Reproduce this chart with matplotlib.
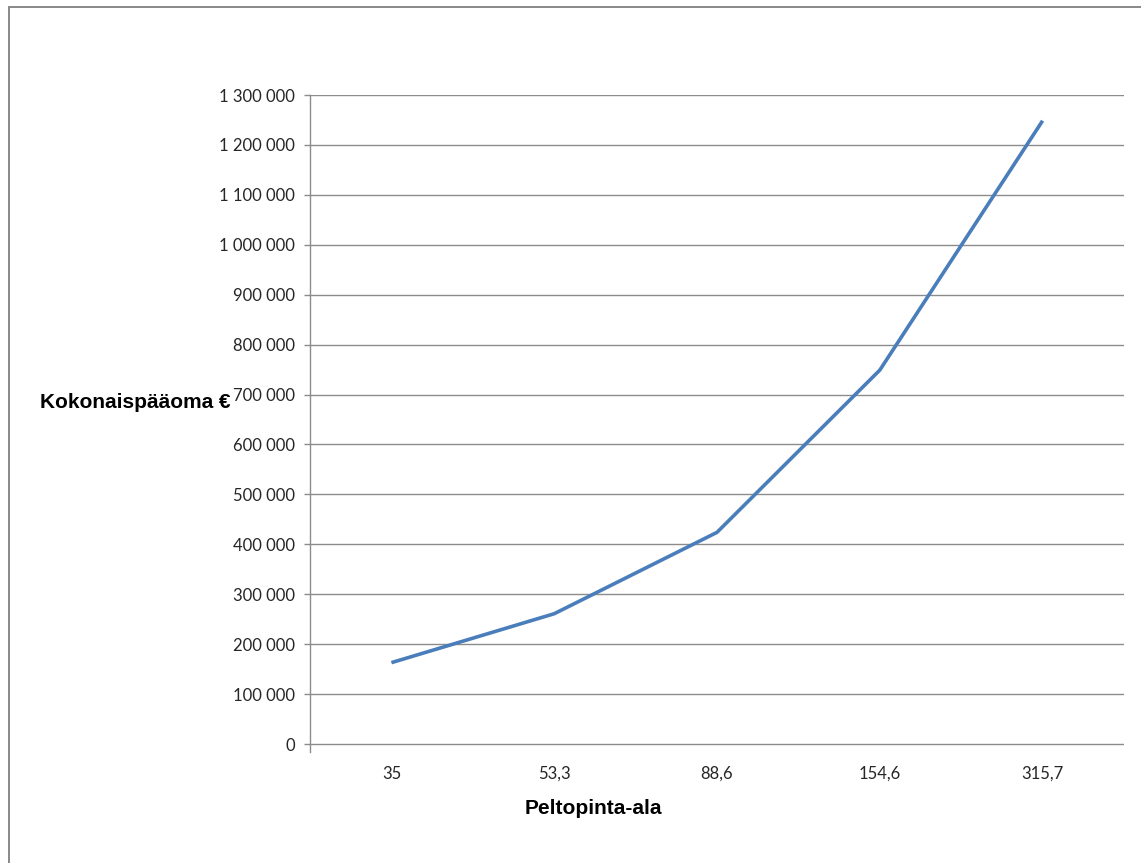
import matplotlib
matplotlib.use("Agg")
import matplotlib.pyplot as plt
from matplotlib.patches import Rectangle
from matplotlib.ticker import FuncFormatter

# Peltopinta-ala (ha) and total capital (EUR)
areas = ["35", "53,3", "88,6", "154,6", "315,7"]
capital = [163000, 261000, 424000, 749000, 1248500]
y_ticks = list(range(0, 1300001, 100000))

fig = plt.figure(figsize=(11.41, 8.63), dpi=100)
ax = fig.add_axes([0.2717, 0.1286, 0.7134, 0.7613])

x = list(range(len(areas)))
ax.plot(x, capital, color="#4a7ebb", linewidth=2.6, solid_capstyle="butt", zorder=3)

ax.set_xlim(-0.5, len(areas) - 0.5)
ax.set_ylim(-16000, 1300000)
ax.set_xticks(x)
ax.set_xticklabels(areas)
ax.set_yticks(y_ticks)
ax.yaxis.set_major_formatter(FuncFormatter(lambda v, p: f"{v:,.0f}".replace(",", " ")))

# horizontal gridlines only, Excel style
ax.grid(axis="y", color="#8c8c8c", linewidth=1.0)
ax.set_axisbelow(True)
for side in ["top", "right", "bottom"]:
    ax.spines[side].set_visible(False)
ax.spines["left"].set_color("#8c8c8c")
ax.spines["left"].set_linewidth(1.0)

ax.tick_params(axis="y", length=4, width=1.0, color="#8c8c8c", pad=7,
               labelsize=12, labelcolor="#262626")
ax.tick_params(axis="x", length=0, pad=10, labelsize=12, labelcolor="#262626")
for lbl in ax.get_xticklabels() + ax.get_yticklabels():
    lbl.set_family(["Lato", "DejaVu Sans"])

# axis titles
title_font = ["Liberation Sans Narrow", "Liberation Sans"]
fig.text(231 / 1141, 1 - 402 / 863, "Kokonaispääoma €", ha="right", va="center",
         fontsize=15, fontweight="bold", family=title_font)
fig.text(593 / 1141, 1 - 808 / 863, "Peltopinta-ala", ha="center", va="center",
         fontsize=15, fontweight="bold", family=title_font)

# chart area frame
fig.patches.append(Rectangle((8.5 / 1141, -0.1), 1.2, 1.1 - 7 / 863, transform=fig.transFigure,
                             fill=False, edgecolor="#7f7f7f", linewidth=1.3))

fig.savefig("out.png", dpi=100)
